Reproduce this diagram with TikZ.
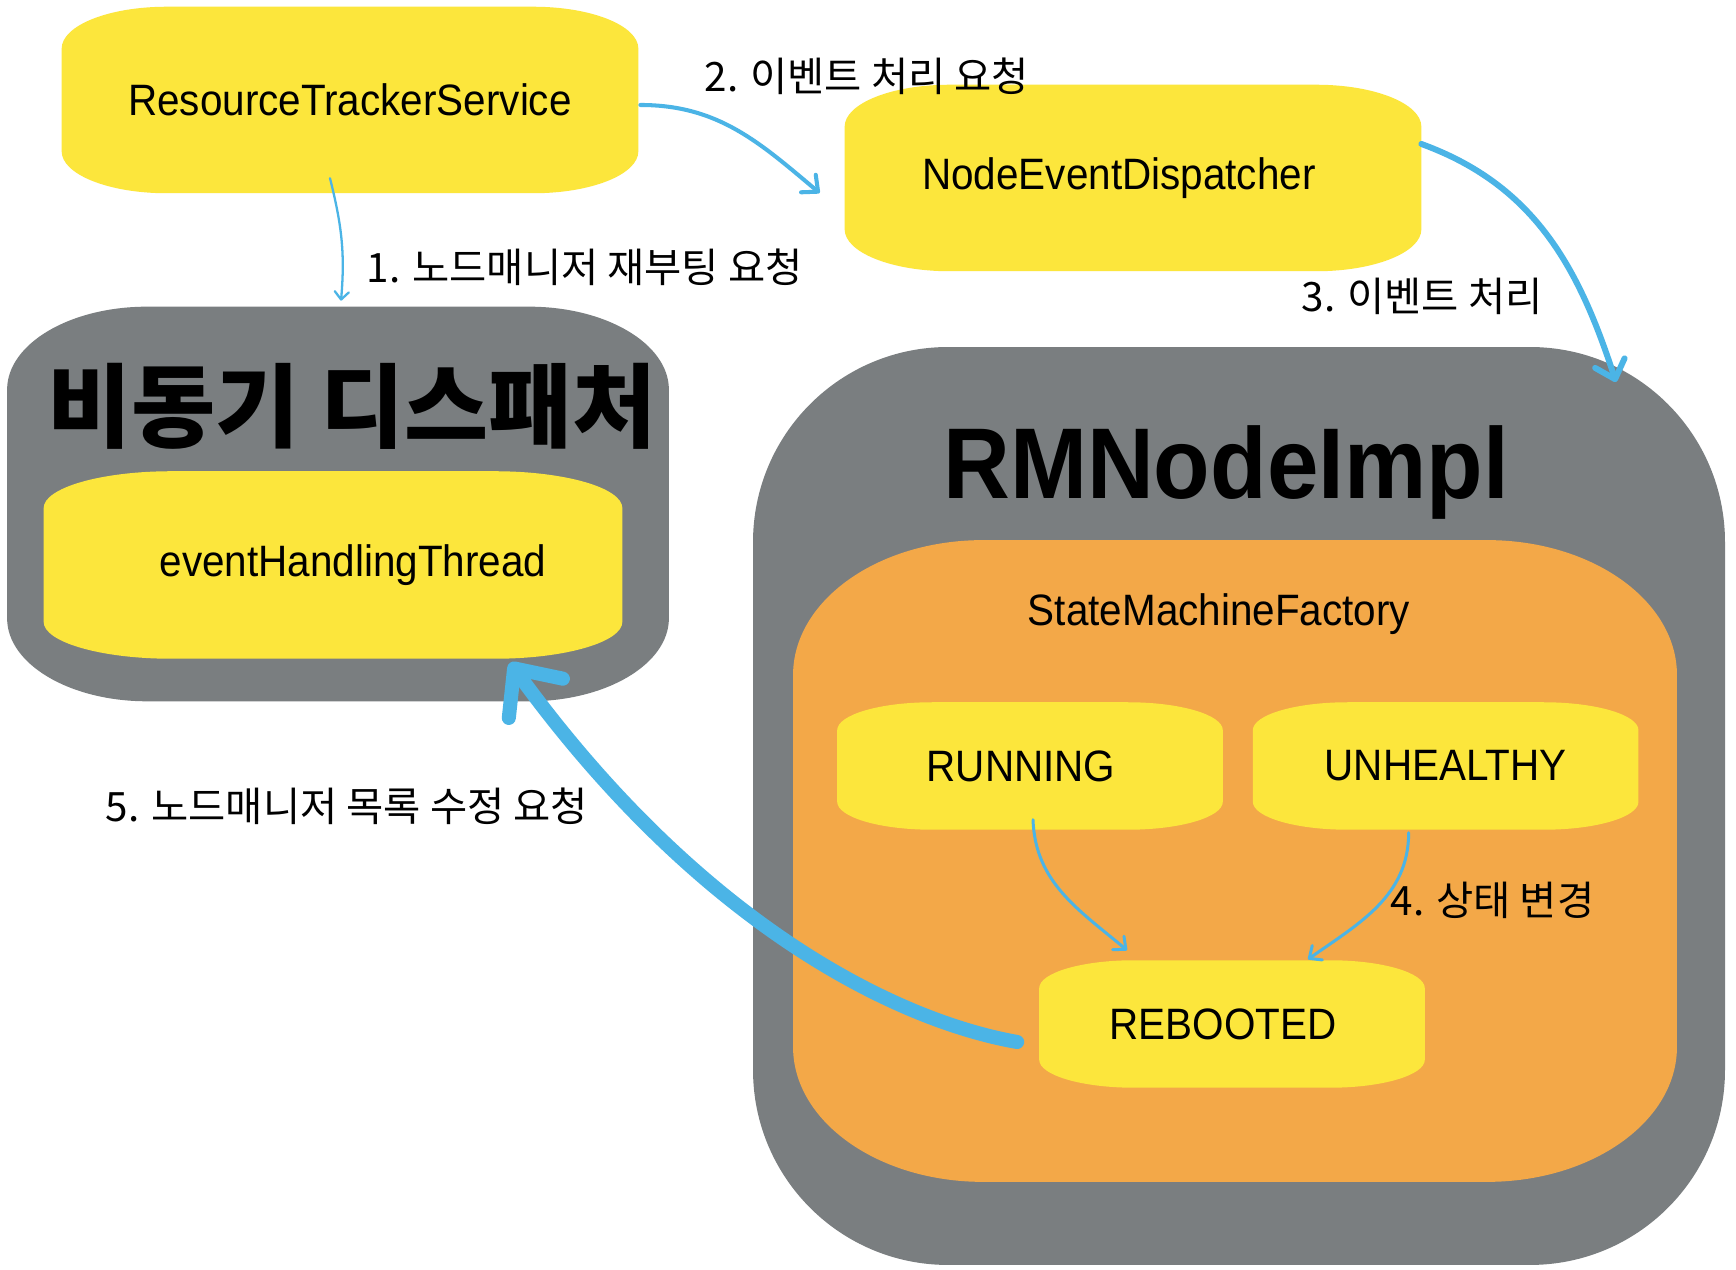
\documentclass[tikz,border=0pt]{standalone}
\usepackage{fontspec}
\setmainfont[FakeStretch=0.92]{Liberation Sans}
\newfontfamily\hangul{Noto Sans CJK KR}
\usetikzlibrary{arrows.meta,calc,positioning,backgrounds}

\definecolor{pillyellow}{HTML}{FCE63C}
\definecolor{shellgray}{HTML}{7A7E80}
\definecolor{factoryorange}{HTML}{F3A848}
\definecolor{flowblue}{HTML}{4BB4E6}

\newcommand\boxfont{\fontsize{12.5}{15}\selectfont}
% rectangle with elliptic corners round a node: name, x radius, y radius, colour
\newcommand\pillshape[4]{%
  \fill[#4] ($(#1.south west)+(#2,0)$) -- ($(#1.south east)+(-#2,0)$)
    arc[start angle=-90,end angle=0,x radius=#2,y radius=#3]
    -- ($(#1.north east)+(0,-#3)$)
    arc[start angle=0,end angle=90,x radius=#2,y radius=#3]
    -- ($(#1.north west)+(#2,0)$)
    arc[start angle=90,end angle=180,x radius=#2,y radius=#3]
    -- ($(#1.south west)+(0,#3)$)
    arc[start angle=180,end angle=270,x radius=#2,y radius=#3] -- cycle;}

\begin{document}
\begin{tikzpicture}[x=0.01cm, y=0.01cm,
    pillbox/.style={rectangle, inner sep=0pt, font=\boxfont},
    statebox/.style={pillbox, minimum width=3.84cm, minimum height=1.26cm},
    flow/.style={draw=flowblue, line cap=round},
    steplabel/.style={font=\hangul\fontsize{11.5}{13}\selectfont, inner sep=0pt, anchor=west}]
    \useasboundingbox (0,0) rectangle (1736,1270);

    % boxes
    \node[pillbox, minimum width=5.75cm, minimum height=1.85cm] (rts) at (350,1170) {ResourceTrackerService};
    \node[pillbox, minimum width=5.75cm, minimum height=1.85cm] (ned) at (1133,1092) {NodeEventDispatcher\hspace*{2.8mm}};
    \node[pillbox, minimum width=6.6cm, minimum height=3.93cm] (async) at (338,766) {};
    \node[pillbox, minimum width=5.77cm, minimum height=1.86cm] (eht) at (333,705) {\hspace*{4mm}eventHandlingThread};
    \node[pillbox, minimum width=9.7cm, minimum height=9.16cm] (rmn) at (1239,464) {};
    \node[pillbox, minimum width=8.82cm, minimum height=6.4cm] (smf) at (1235,409) {};
    \node[statebox] (running) at (1030,504) {RUNNING\hspace*{1.8mm}};
    \node[statebox, right=0.3cm of running] (unhealthy) {UNHEALTHY};
    \node[statebox] (rebooted) at (1232,246) {REBOOTED\hspace*{1.8mm}};

    % titles
    \node[font=\hangul\bfseries\fontsize{26}{30}\selectfont, inner sep=0pt, below=0.56cm of async.north, xshift=0.14cm] (asynctitle) {비동기 디스패처};
    \node[font=\bfseries\fontsize{28.6}{32}\selectfont, anchor=base] (rmntitle) at (1226,771) {RMNodeImpl};
    \node[font=\boxfont, anchor=base] (smftitle) at (1219,644) {StateMachineFactory};

    % step labels
    \node[steplabel] (stepone) at (366,1003) {1. 노드매니저 재부팅 요청};
    \node[steplabel] (steptwo) at (704,1194) {2. 이벤트 처리 요청};
    \node[steplabel] (stepthree) at (1301,974) {3. 이벤트 처리};
    \node[steplabel] (stepfour) at (1390,370) {4. 상태 변경};
    \node[steplabel] (stepfive) at (105,464) {5. 노드매니저 목록 수정 요청};

    \begin{scope}[on background layer]
        \fill[white] (0,0) rectangle (1736,1270);
        \pillshape{async}{140}{83}{shellgray}
        \pillshape{rmn}{195}{195}{shellgray}
        \pillshape{smf}{190}{135}{factoryorange}
        \pillshape{rts}{105}{42}{pillyellow}
        \pillshape{ned}{105}{42}{pillyellow}
        \pillshape{eht}{128}{37}{pillyellow}
        \foreach \s in {running,unhealthy,rebooted} {\pillshape{\s}{95}{28}{pillyellow}}
    \end{scope}

    % connectors
    \draw[flow, line width=0.65pt, -{Straight Barb[length=2.2pt,width=4pt,round]}]
        ([shift={(-20,15)}]rts.south) to[out=-76,in=85] ([shift={(3,6)}]async.north);
    \draw[flow, line width=1.15pt, -{Straight Barb[length=3.6pt,width=6.5pt,round]}]
        ([shift={(2,-5)}]rts.east) to[out=0,in=140] ([shift={(-25,-15)}]ned.west);
    \draw[flow, line width=1.7pt, -{Straight Barb[length=4.8pt,width=8.8pt,round]}]
        ([shift={(0,34)}]ned.east) to[out=-20,in=108] ([shift={(-109,-35)}]rmn.north east);
    \draw[flow, line width=0.85pt, -{Straight Barb[length=2.8pt,width=5pt,round]}]
        ([shift={(3,10)}]running.south) to[out=-88,in=140] ([shift={(-105,10)}]rebooted.north);
    \draw[flow, line width=0.85pt, -{Straight Barb[length=2.8pt,width=5pt,round]}]
        ([shift={(-37,-3)}]unhealthy.south) to[out=-90,in=35] ([shift={(76,1)}]rebooted.north);
    \draw[flow, line width=4pt, -{Straight Barb[length=10.5pt,width=19pt,round]}]
        ([shift={(-22,-18)}]rebooted.west) to[out=170,in=-54,out looseness=0.5,in looseness=1.3] ([shift={(177,-4)}]eht.south);
\end{tikzpicture}
\end{document}
